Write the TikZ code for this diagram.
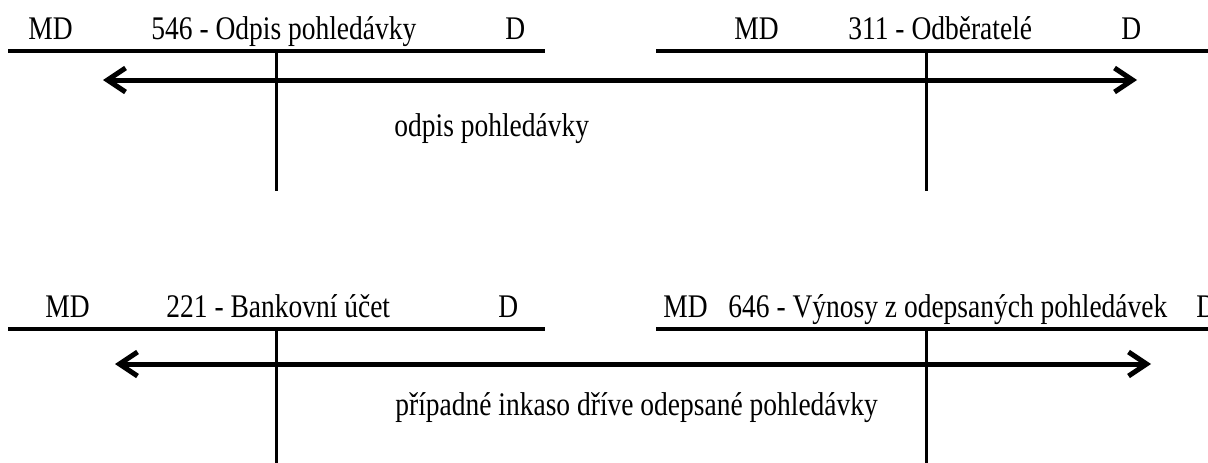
\documentclass[tikz,border=0pt]{standalone}
\usepackage{fontspec}
\setmainfont{Liberation Serif}[FakeStretch=0.833]
\usetikzlibrary{arrows.meta}
\tikzset{
  acct/.style={line width=2pt},
  tick/.style={line width=1.5pt},
  flow/.style={line width=2.5pt,{Straight Barb[length=9pt,width=12pt]}-{Straight Barb[length=9pt,width=12pt]}},
  lbl/.style={anchor=base west,inner sep=0pt,font=\fontsize{16.5}{19}\selectfont}
}
\begin{document}
\begin{tikzpicture}[x=0.5pt,y=-0.5pt]
\useasboundingbox (0,0) rectangle (1208,462);
\clip (0,0) rectangle (1208,462);
% top accounts
\coordinate (tl1) at (8,51); \coordinate (tl2) at (545,51);
\coordinate (tr1) at (656,51); \coordinate (tr2) at (1215,51);
\coordinate (tlv1) at (276,51); \coordinate (tlv2) at (276,191);
\coordinate (trv1) at (926,51); \coordinate (trv2) at (926,191);
\draw[acct] (tl1) -- (tl2);
\draw[acct] (tr1) -- (tr2);
\draw[tick] (tlv1) -- (tlv2);
\draw[tick] (trv1) -- (trv2);
\coordinate (ta1) at (103,80); \coordinate (ta2) at (1137,80);
\draw[flow] (ta1) -- (ta2);
\node[lbl] (tlmd) at (28,39.5) {MD};
\node[lbl] (tlt) at (151,39.5) {546 - Odpis pohledávky};
\node[lbl] (tld) at (505,39.5) {D};
\node[lbl] (trmd) at (734,39.5) {MD};
\node[lbl] (trt) at (848,39.5) {311 - Odběratelé};
\node[lbl] (trd) at (1121,39.5) {D};
\node[lbl] (l1) at (394,136.5) {odpis pohledávky};
% bottom accounts
\coordinate (bl1) at (8,328.5); \coordinate (bl2) at (545,328.5);
\coordinate (br1) at (656,328.5); \coordinate (br2) at (1215,328.5);
\coordinate (blv1) at (276,328.5); \coordinate (blv2) at (276,470);
\coordinate (brv1) at (926,328.5); \coordinate (brv2) at (926,470);
\draw[acct] (bl1) -- (bl2);
\draw[acct] (br1) -- (br2);
\draw[tick] (blv1) -- (blv2);
\draw[tick] (brv1) -- (brv2);
\coordinate (ba1) at (115,364); \coordinate (ba2) at (1151,364);
\draw[flow] (ba1) -- (ba2);
\node[lbl] (blmd) at (45,317) {MD};
\node[lbl] (blt) at (166,317) {221 - Bankovní účet};
\node[lbl] (bld) at (498,317) {D};
\node[lbl] (brmd) at (663,317) {MD};
\node[lbl] (brt) at (728,317) {646 - Výnosy z odepsaných pohledávek};
\node[lbl] (brd) at (1196,317) {D};
\node[lbl] (l2) at (395,415) {případné inkaso dříve odepsané pohledávky};
\end{tikzpicture}
\end{document}
